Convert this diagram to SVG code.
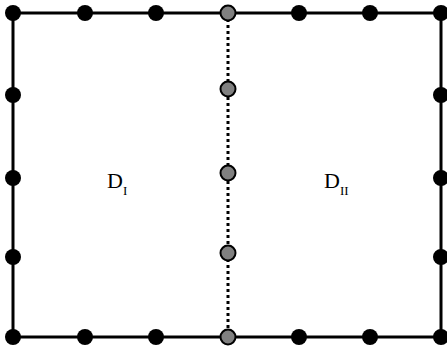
<svg xmlns="http://www.w3.org/2000/svg" width="447" height="352" viewBox="0 0 447 352">
<style>
.edge{stroke:#000;stroke-width:3;fill:none}
.dot{stroke:#000;stroke-width:3;stroke-dasharray:3 3;fill:none}
.b{fill:#000}
.g{fill:#808080;stroke:#000;stroke-width:2}
.t{font-family:"Liberation Serif",serif;fill:#000}
</style>
<rect width="447" height="352" fill="#fff"/>
<g id="connectors">
<rect class="edge" x="13" y="13" width="428" height="324"/>
<line class="dot" x1="228" y1="13" x2="228" y2="337"/>
</g>
<g id="black-nodes">
<circle class="b" cx="13" cy="13" r="8"/><circle class="b" cx="85" cy="13" r="8"/><circle class="b" cx="156" cy="13" r="8"/>
<circle class="b" cx="299" cy="13" r="8"/><circle class="b" cx="370" cy="13" r="8"/><circle class="b" cx="441" cy="13" r="8"/>
<circle class="b" cx="13" cy="337" r="8"/><circle class="b" cx="85" cy="337" r="8"/><circle class="b" cx="156" cy="337" r="8"/>
<circle class="b" cx="299" cy="337" r="8"/><circle class="b" cx="370" cy="337" r="8"/><circle class="b" cx="441" cy="337" r="8"/>
<circle class="b" cx="13" cy="95" r="8"/><circle class="b" cx="13" cy="178" r="8"/><circle class="b" cx="13" cy="257" r="8"/>
<circle class="b" cx="441" cy="95" r="8"/><circle class="b" cx="441" cy="178" r="8"/><circle class="b" cx="441" cy="257" r="8"/>
</g>
<g id="gray-nodes">
<circle class="g" cx="228" cy="13" r="7.5"/><circle class="g" cx="228" cy="89" r="7.5"/><circle class="g" cx="228" cy="173" r="7.5"/>
<circle class="g" cx="228" cy="253" r="7.5"/><circle class="g" cx="228" cy="337" r="7.5"/>
</g>
<g id="label-DI"><text class="t" x="107" y="188" font-size="22">D<tspan font-size="13" dy="7">I</tspan></text></g>
<g id="label-DII"><text class="t" x="324" y="188" font-size="22">D<tspan font-size="13" dy="7">II</tspan></text></g>
</svg>
